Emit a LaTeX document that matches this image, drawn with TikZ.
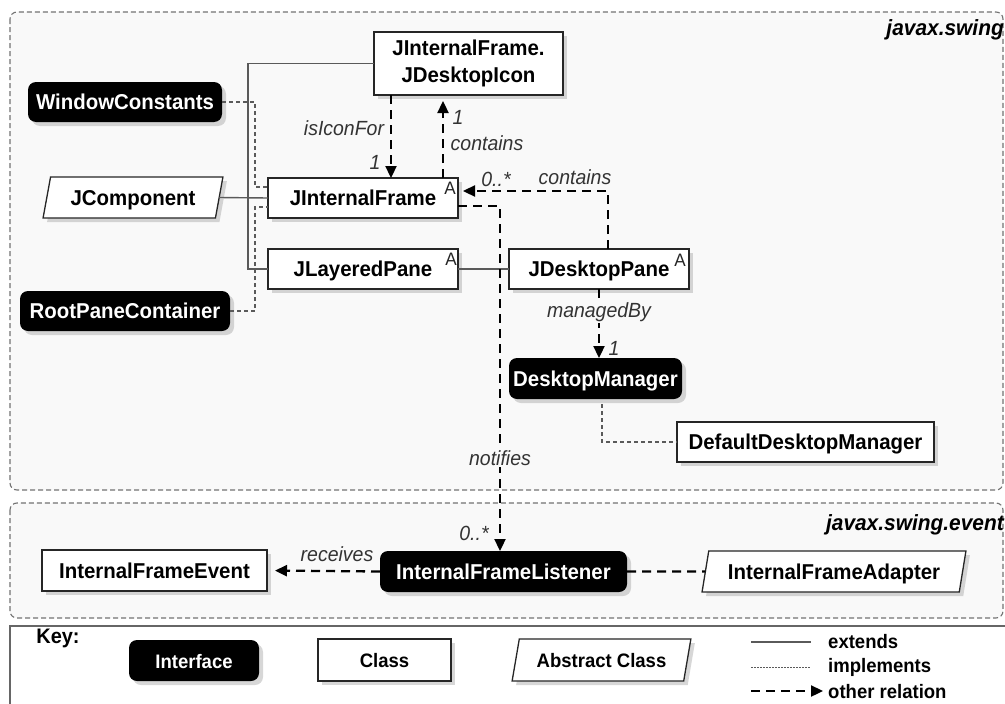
\documentclass[tikz,border=0pt]{standalone}
\usepackage{fontspec}
\setmainfont{Liberation Sans}[FakeStretch=0.95]
\usetikzlibrary{shapes.geometric,arrows.meta,shadows,calc}
\definecolor{pkgbg}{HTML}{F9F9F9}
\definecolor{linegray}{HTML}{5A5A5A}
\tikzset{
  shad/.style={drop shadow={shadow xshift=4pt,shadow yshift=-4pt,opacity=0.22,fill=black!70}},
  boxfont/.style={font=\fontsize{21.5}{27}\selectfont\bfseries},
  keyfont/.style={font=\fontsize{19.5}{22}\selectfont\bfseries},
  tcenter/.style={text height=17pt,text depth=1.5pt},
  iface/.style={rectangle,rounded corners=8pt,fill=black,text=white,boxfont,tcenter,inner sep=0pt,outer sep=0pt,shad},
  cls/.style={rectangle,draw=black!85,line width=1.3pt,fill=white,boxfont,tcenter,inner sep=0pt,outer sep=0pt,shad},
  abscls/.style={trapezium,trapezium left angle=73,trapezium right angle=107,trapezium stretches=true,
     draw=black!85,line width=1.3pt,fill=white,boxfont,tcenter,inner sep=0pt,outer sep=0pt,shad},
  ext/.style={draw=linegray,line width=1.4pt},
  impl/.style={draw=linegray,line width=1.2pt,dash pattern=on 4pt off 3pt},
  rel/.style={draw=black,line width=2.3pt,dash pattern=on 9pt off 6pt},
  relarrow/.style={rel,-{Triangle[length=12pt,width=11pt]}},
  lbl/.style={font=\fontsize{20.5}{22}\selectfont\itshape,text=black!80,inner sep=1pt},
  suplbl/.style={font=\fontsize{18}{19}\selectfont,text=black!85,inner sep=0pt},
  pkg/.style={draw=black!55,line width=1.1pt,dash pattern=on 5pt off 3pt,rounded corners=7pt,fill=pkgbg},
  pkgtitle/.style={font=\fontsize{22}{24}\selectfont\bfseries\itshape,anchor=east,inner sep=0pt},
  legtext/.style={font=\fontsize{19.5}{21}\selectfont\bfseries,anchor=west,inner sep=0pt}
}
\begin{document}
\begin{tikzpicture}[x=1pt,y=-1pt]
\useasboundingbox (0,0) rectangle (1005,704);
\fill[white] (0,0) rectangle (1005,704);
% packages
\draw[pkg] (10,12) rectangle (1003,490);
\draw[pkg] (10,503) rectangle (1003,618);
\draw[draw=black!60,line width=1.6pt] (10,626) rectangle (1015,716);
\node[pkgtitle] (tswing) at (1004,30) {javax.swing};
\node[pkgtitle] (tevent) at (1004,525) {javax.swing.event};

% nodes
\node[cls,minimum width=189,minimum height=63,align=center,text height=,text depth=] (icon) at (468.5,63.5) {JInternalFrame.\\JDesktopIcon};
\node[iface,minimum width=194,minimum height=40] (wc) at (125,102) {WindowConstants};
\node[abscls,minimum width=180,minimum height=41] (jcomp) at (133,197.5) {JComponent};
\node[cls,minimum width=190,minimum height=40] (jif) at (363,198) {JInternalFrame};
\node[cls,minimum width=190,minimum height=40] (jlp) at (363,269) {JLayeredPane};
\node[iface,minimum width=210,minimum height=40] (rpc) at (125,311) {RootPaneContainer};
\node[cls,minimum width=180,minimum height=40] (jdp) at (599,269) {JDesktopPane};
\node[iface,minimum width=173,minimum height=41] (dm) at (595.5,378.5) {DesktopManager};
\node[cls,minimum width=257,minimum height=40] (ddm) at (805.5,442) {DefaultDesktopManager};
\node[cls,minimum width=225,minimum height=41] (ife) at (154.5,570.5) {InternalFrameEvent};
\node[iface,minimum width=247,minimum height=41] (ifl) at (503.5,571.5) {InternalFrameListener};
\node[abscls,minimum width=264,minimum height=41] (ifa) at (834,571.5) {InternalFrameAdapter};

\node[suplbl] (a1) at (450,188) {A};
\node[suplbl] (a2) at (451,259) {A};
\node[suplbl] (a3) at (680,260) {A};

% extends
\coordinate (ex) at (248,0);
\draw[ext] (icon.west) -- (icon.west -| ex) -- (ex |- jlp.west) -- (jlp.west);
\draw[ext] (jcomp.east) -- (jif.west);
\draw[ext] (jlp.east) -- (jdp.west);

% implements
\coordinate (im) at (255,0);
\draw[impl] (wc.east) -- (wc.east -| im) |- ($(jif.west)+(0,-11)$);
\draw[impl] (rpc.east) -- (rpc.east -| im) |- ($(jif.west)+(0,9)$);
\draw[impl,shorten <=5pt] ($(dm.south)+(6.5,0)$) |- (ddm.west);

% other relations
\draw[relarrow] ($(icon.south west)+(17,0)$) -- ($(jif.north west)+(123,0)$);
\draw[relarrow,shorten >=6pt] ($(jif.north west)+(175,0)$) -- ($(icon.south west)+(69,0)$);
\draw[relarrow,shorten >=5pt] ($(jdp.north west)+(99,0)$) |- ($(jif.east)+(0,-7)$);
\draw[relarrow] ($(jif.east)+(0,8)$) -| ($(ifl.north)+(-3.5,0)$);
\draw[relarrow] (jdp.south) -- (jdp.south |- dm.north);
\draw[relarrow,shorten >=8pt] (ifl.west) -- (ife.east);
\draw[rel] (ifl.east) -- (ifa.west);

% labels
\node[lbl] (l1) at (344,128) {isIconFor};
\node[lbl] (l2) at (375,162) {1};
\node[lbl] (l3) at (458,117) {1};
\node[lbl] (l4) at (487,143) {contains};
\node[lbl] (l5) at (496,179) {0..*};
\node[lbl] (l6) at (575,177) {contains};
\node[lbl,fill=pkgbg] (l7) at (599,312) {managedBy};
\node[lbl] (l8) at (614,348) {1};
\node[lbl,fill=pkgbg] (l9) at (500,458) {notifies};
\node[lbl] (l10) at (474,533) {0..*};
\node[lbl] (l11) at (337,554) {receives};

% key
\node[font=\fontsize{21}{22}\selectfont\bfseries,inner sep=0pt] (key) at (58,638) {Key:};
\node[iface,keyfont,minimum width=130,minimum height=41] (kif) at (194,660.5) {Interface};
\node[cls,keyfont,minimum width=133,minimum height=42] (kcl) at (384.5,660) {Class};
\node[abscls,keyfont,minimum width=179,minimum height=42] (kab) at (601.5,660) {Abstract Class};
\coordinate (e1) at (751,642); \coordinate (e2) at (811,642);
\coordinate (i1) at (751,667); \coordinate (i2) at (811,667);
\coordinate (o1) at (751,691); \coordinate (o2) at (823,691);
\draw[ext] (e1) -- (e2);
\draw[draw=linegray,line width=1pt,dash pattern=on 1.5pt off 1.5pt] (i1) -- (i2);
\draw[relarrow] (o1) -- (o2);
\node[legtext] (t1) at (828,642) {extends};
\node[legtext] (t2) at (828,667) {implements};
\node[legtext] (t3) at (828,692) {other relation};
\end{tikzpicture}
\end{document}
